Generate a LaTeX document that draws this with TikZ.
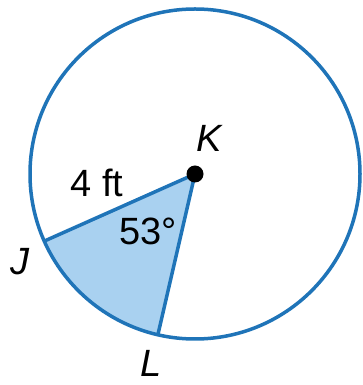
\documentclass[tikz,border=0pt]{standalone}
\usepackage{fontspec}
\setsansfont{Liberation Sans}
\usetikzlibrary{positioning,calc}
\definecolor{rimblue}{HTML}{1F74B8}
\definecolor{sectorblue}{HTML}{A9D1F0}

\begin{document}
\begin{tikzpicture}[x=1pt,y=1pt,
  font=\sffamily\fontsize{38}{42}\selectfont,
  rim/.style={draw=rimblue,line width=3.5pt},
  centre/.style={circle,fill=black,inner sep=0pt,minimum size=17pt},
  txt/.style={inner sep=0pt,anchor=base},
  vlbl/.style={txt,font=\sffamily\itshape\fontsize{38}{42}\selectfont}]
\useasboundingbox (0,0) rectangle (363,385);
\coordinate (k) at (195,211);
\coordinate (j) at ($(k)+(204:165)$);
\coordinate (l) at ($(k)+(257:165)$);
% shaded sector JKL
\fill[sectorblue] (k) -- (j) arc[start angle=204,end angle=257,radius=165] -- cycle;
\draw[rim] (k) circle[radius=165];
\draw[rim] (j) -- (k) -- (l);
\node[centre] (kdot) at (k) {};
\node[vlbl] (klbl) at (209,233) {K};
\node[vlbl] (jlbl) at (20,110) {J};
\node[vlbl] (llbl) at (151,9) {L};
\node[txt] (rad) at (97,188) {4 ft};
\node[txt] (ang) at (148,140) {53°};
\end{tikzpicture}
\end{document}
